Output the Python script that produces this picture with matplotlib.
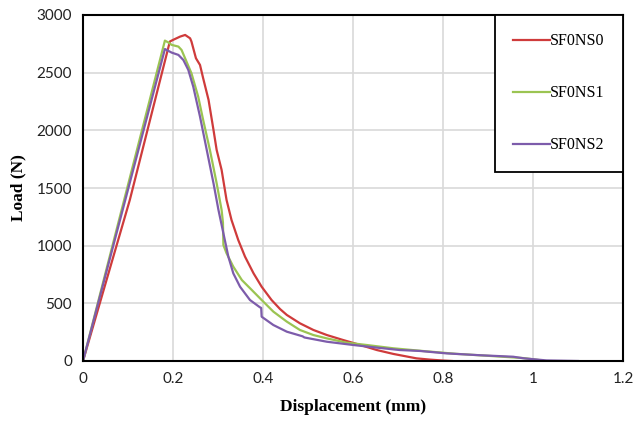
import matplotlib
matplotlib.use("Agg")
import matplotlib.pyplot as plt

# SF0NS0 (red)
x0 = [0, 0.104, 0.193, 0.200, 0.216, 0.227, 0.238, 0.241, 0.245, 0.251, 0.260, 0.267,
      0.279, 0.290, 0.297, 0.308, 0.319, 0.330, 0.345, 0.360, 0.379, 0.397, 0.419,
      0.438, 0.453, 0.482, 0.512, 0.542, 0.578, 0.616, 0.653, 0.690, 0.741, 0.771,
      0.800, 0.820]
y0 = [0, 1396, 2770, 2784, 2813, 2827, 2798, 2770, 2712, 2625, 2567, 2452,
      2264, 2003, 1830, 1657, 1396, 1223, 1049, 905, 760, 644, 529,
      450, 399, 327, 269, 225, 182, 139, 95, 61, 23, 12,
      4, 0]

# SF0NS1 (green)
x1 = [0, 0.182, 0.190, 0.197, 0.212, 0.219, 0.230, 0.241, 0.256, 0.267, 0.282, 0.297,
      0.308, 0.311, 0.312, 0.319, 0.334, 0.353, 0.375, 0.397, 0.423, 0.453, 0.482,
      0.512, 0.542, 0.586, 0.630, 0.690, 0.760, 0.830, 0.900, 0.980, 1.020]
y1 = [0, 2778, 2761, 2741, 2726, 2697, 2596, 2495, 2292, 2090, 1830, 1541,
      1310, 1200, 1006, 934, 818, 702, 616, 529, 428, 341, 269,
      225, 196, 159, 139, 110, 85, 62, 45, 25, 5]

# SF0NS2 (purple)
x2 = [0, 0.182, 0.197, 0.212, 0.223, 0.234, 0.245, 0.260, 0.275, 0.290, 0.301, 0.312,
      0.323, 0.334, 0.349, 0.371, 0.393, 0.396, 0.397, 0.423, 0.453, 0.488, 0.492,
      0.542, 0.600, 0.653, 0.704, 0.749, 0.808, 0.882, 0.956, 0.980, 1.030, 1.100]
y2 = [0, 2705, 2674, 2654, 2610, 2524, 2379, 2119, 1830, 1541, 1310, 1107,
      905, 760, 644, 529, 466, 460, 384, 312, 254, 214, 204,
      167, 139, 116, 95, 87, 66, 50, 37, 23, 5, 0]

labels = ["SF0NS0", "SF0NS1", "SF0NS2"]
colors = ["#CF3B3B", "#9BC452", "#7D5CAB"]
xticks = [0, 0.2, 0.4, 0.6, 0.8, 1, 1.2]
xticklabels = ["0", "0.2", "0.4", "0.6", "0.8", "1", "1.2"]
yticks = [0, 500, 1000, 1500, 2000, 2500, 3000]

fig = plt.figure(figsize=(6.35, 4.25), dpi=100)
ax = fig.add_axes([83/635, 1 - 361/425, 540/635, 346/425])

for xs, ys, lab, c in zip([x0, x1, x2], [y0, y1, y2], labels, colors):
    ax.plot(xs, ys, color=c, lw=1.6, label=lab)

ax.set_xlim(0, 1.2)
ax.set_ylim(0, 3000)
ax.set_xticks(xticks)
ax.set_xticklabels(xticklabels)
ax.set_yticks(yticks)
ax.grid(True, color="#D9D9D9", lw=1.2)
ax.set_axisbelow(True)
ax.tick_params(length=0, labelsize=11, pad=8)
for lbl in ax.get_xticklabels() + ax.get_yticklabels():
    lbl.set_fontfamily("Lato")
    lbl.set_color("#222222")
for s in ax.spines.values():
    s.set_color("black")
    s.set_linewidth(1.5)

ax.set_xlabel("Displacement (mm)", fontfamily="Liberation Serif", fontweight="bold",
              fontsize=12.5, labelpad=9)
ax.set_ylabel("Load (N)", fontfamily="Liberation Serif", fontweight="bold",
              fontsize=12.5, labelpad=7)

leg = ax.legend(loc="upper right", bbox_to_anchor=(1.0, 1.0), borderaxespad=0,
                prop={"family": "Liberation Serif", "size": 11.5},
                handlelength=2.3, handletextpad=0.0, labelspacing=2.25,
                borderpad=1.15, fancybox=False, framealpha=1)
leg.get_frame().set_edgecolor("black")
leg.get_frame().set_linewidth(1.3)

fig.savefig("out.png", dpi=100)
